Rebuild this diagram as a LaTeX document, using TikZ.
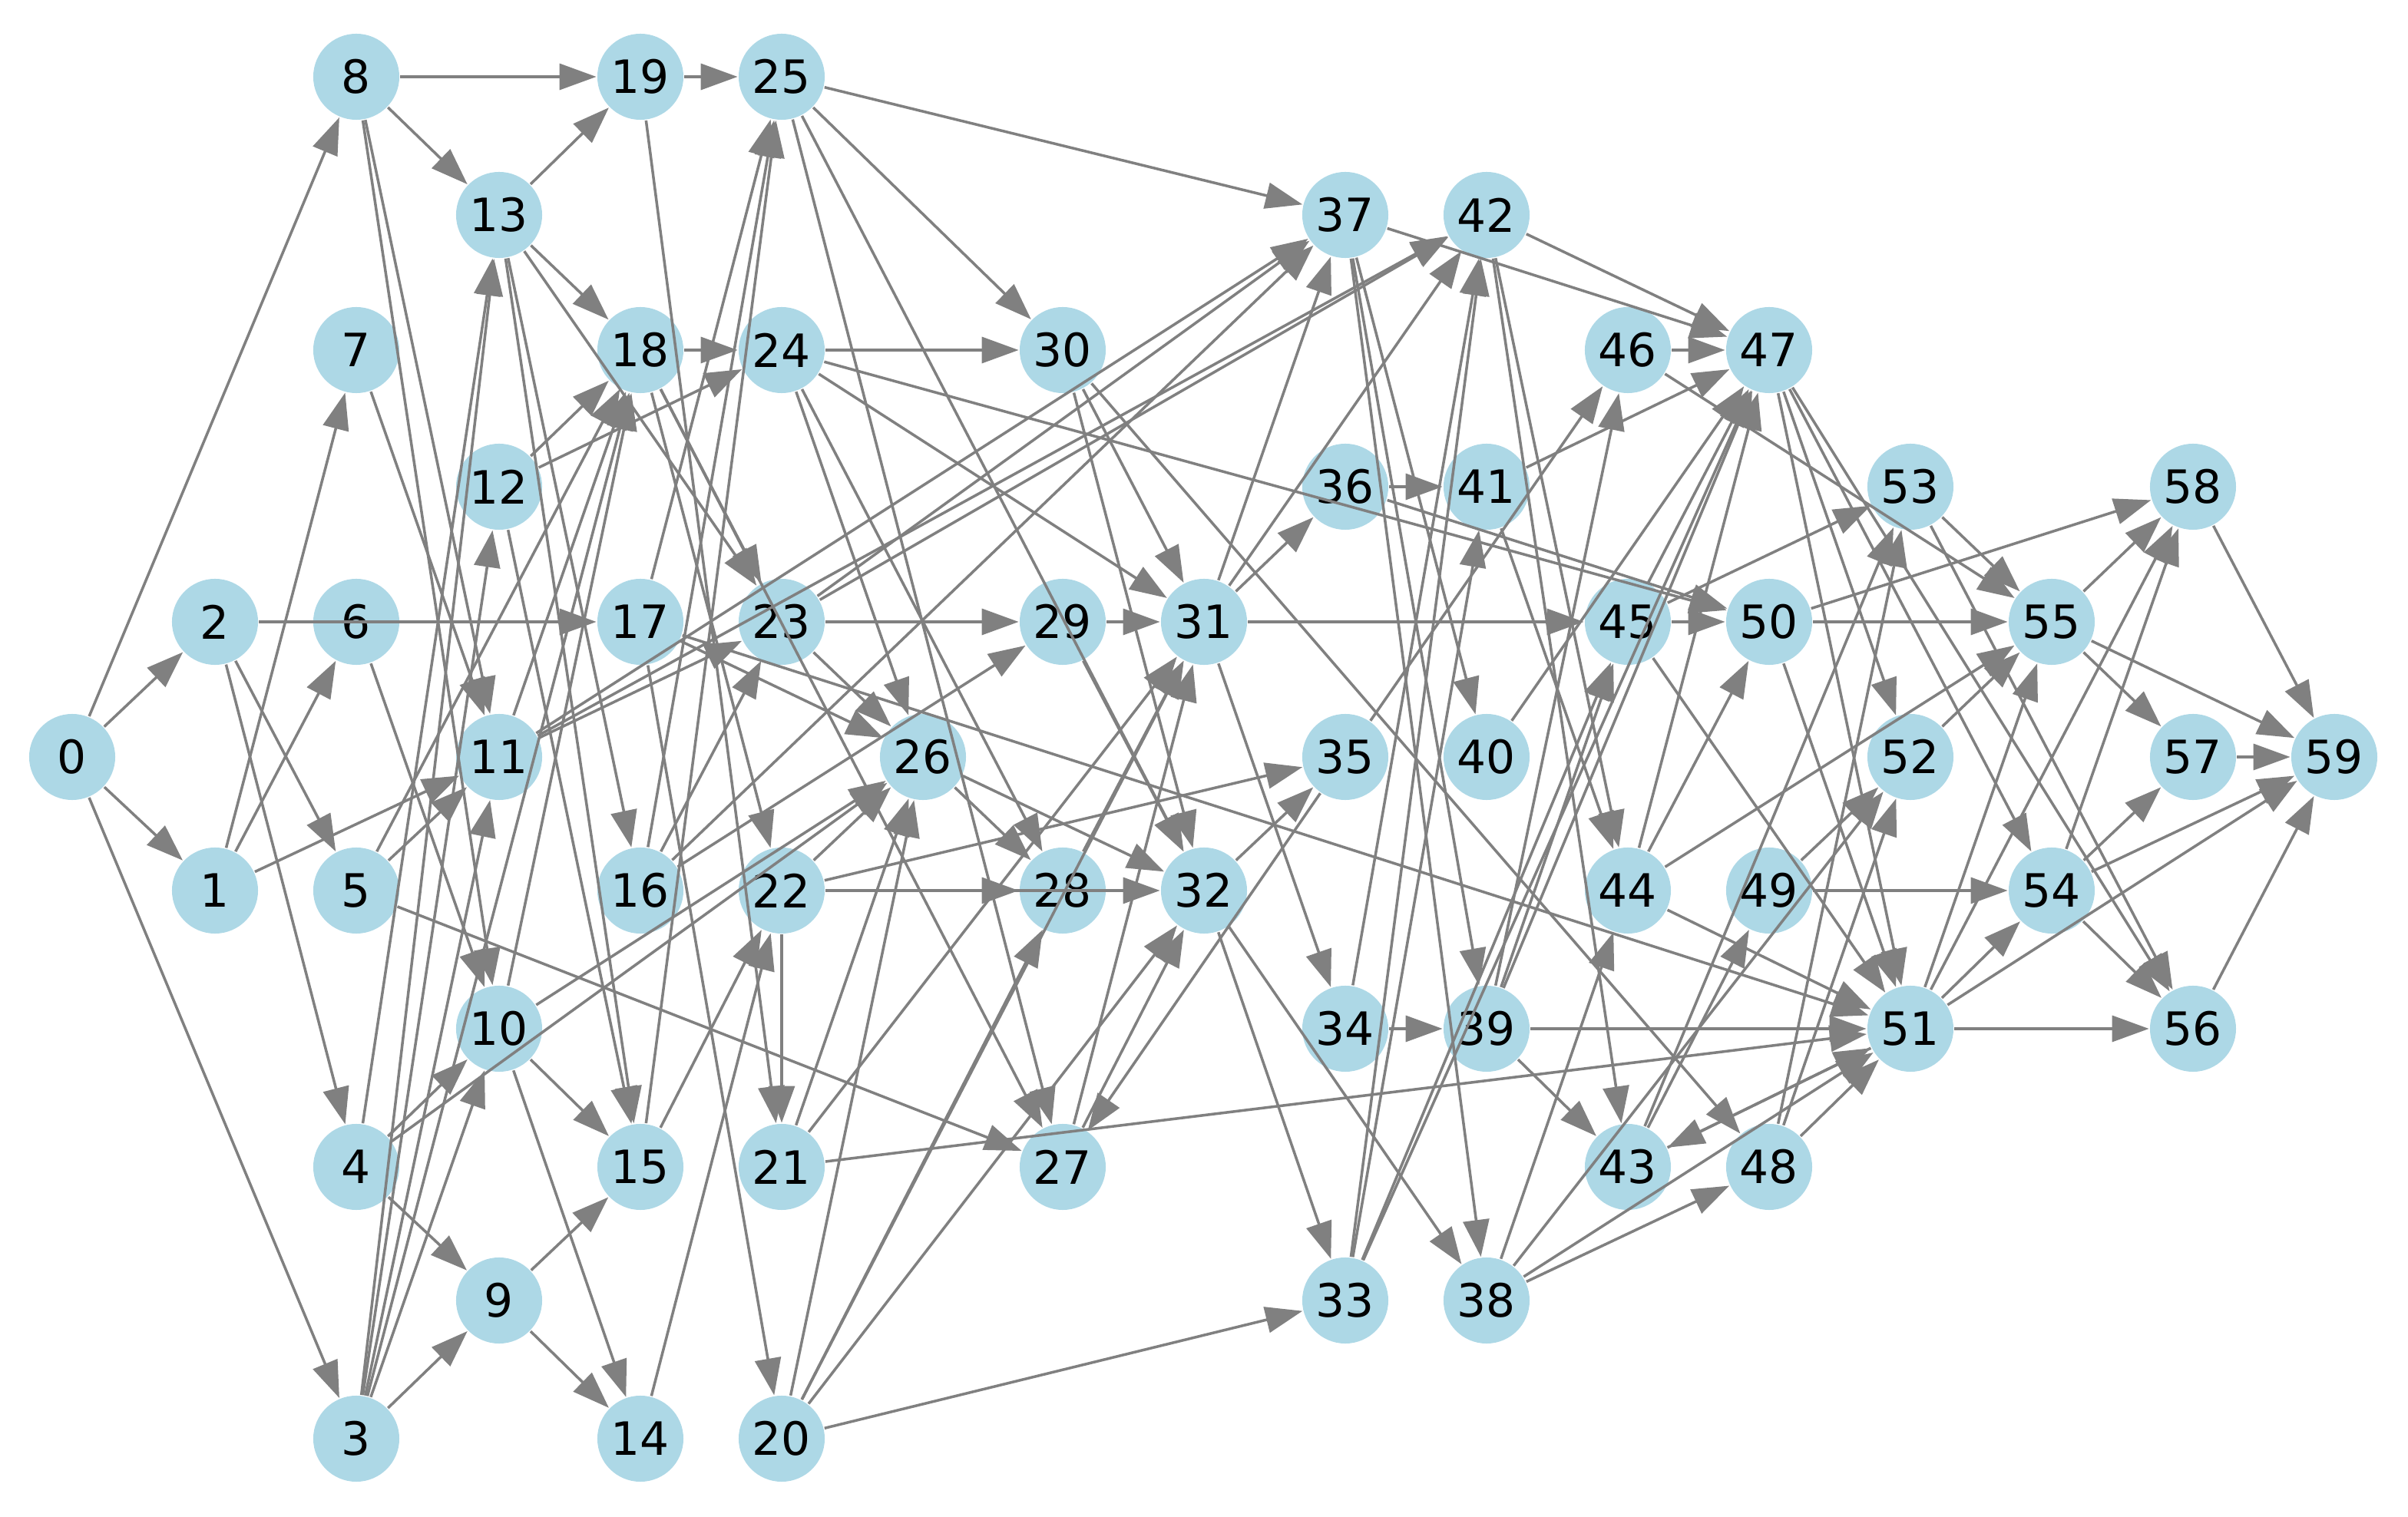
\documentclass[tikz,border=0pt]{standalone}
\usepackage{fontspec}
\setmainfont{DejaVu Sans}
\usetikzlibrary{arrows.meta}

\begin{document}
\begin{tikzpicture}[x=0.01cm,y=-0.01cm]
    \definecolor{vfill}{HTML}{ADD8E6}
    \tikzset{vertex/.style = {shape=circle,fill=vfill,minimum size=0.56cm,inner sep=0pt,font=\fontsize{8.5}{9}\selectfont}}
    \tikzset{pre/.style = {-{Triangle[length=2.4mm,width=1.7mm]},draw=gray,line width=0.5pt}}
    \useasboundingbox (0,0) rectangle (1568,988);

    % vertices
    \foreach \n/\x/\y in {0/47/493,1/140/580,2/140/405,3/232/937,4/232/760,5/232/580,
      6/232/405,7/232/228,8/232/50,9/325/847,10/325/670,11/325/493,12/325/317,
      13/325/140,14/417/937,15/417/760,16/417/580,17/417/405,18/417/228,19/417/50,
      20/509/937,21/509/760,22/509/580,23/509/405,24/509/228,25/509/50,26/601/493,
      27/692/760,28/692/580,29/692/405,30/692/228,31/784/405,32/784/580,33/876/847,
      34/876/670,35/876/493,36/876/317,37/876/140,38/968/847,39/968/670,40/968/493,
      41/968/317,42/968/140,43/1060/760,44/1060/580,45/1060/405,46/1060/228,
      47/1152/228,48/1152/760,49/1152/580,50/1152/405,51/1244/670,52/1244/493,
      53/1244/317,54/1336/580,55/1336/405,56/1428/670,57/1428/493,58/1428/317,
      59/1520/493}
      \node[vertex] (v\n) at (\x,\y) {\n};

    % arcs
    \foreach \a/\b in {0/8,0/2,0/1,0/3,1/7,1/6,1/11,2/17,2/5,2/4,
      3/9,3/10,3/11,3/12,3/13,3/18,4/9,4/10,4/13,4/26,5/11,5/18,5/27,6/10,
      7/11,8/19,8/13,8/10,8/11,9/15,9/14,10/15,10/14,10/26,10/18,
      11/18,11/37,11/42,11/23,12/18,12/24,12/15,13/19,13/18,13/23,13/16,13/15,
      14/22,15/22,15/25,16/25,16/23,16/29,16/37,17/25,17/26,17/51,17/20,
      18/24,18/23,18/22,18/27,19/25,19/21,20/33,20/26,20/28,20/31,20/32,
      21/26,21/31,21/51,22/26,22/35,22/28,22/32,22/21,23/29,23/37,23/42,23/26,
      24/30,24/26,24/31,24/28,24/50,25/37,25/30,25/27,25/32,26/28,26/32,
      27/32,27/31,28/31,29/31,29/32,30/31,30/32,30/48,31/36,31/34,31/37,
      31/45,31/42,32/33,32/38,32/35,33/42,33/41,33/45,33/47,34/39,34/42,35/46,35/27,
      36/41,36/50,37/47,37/38,37/39,37/40,38/48,38/51,38/44,38/52,
      39/43,39/51,39/47,39/45,39/46,40/47,41/47,41/44,42/47,42/43,42/44,
      43/51,43/49,43/53,44/51,44/50,44/47,44/55,45/50,45/53,45/51,45/47,
      46/47,46/55,47/52,47/51,47/54,47/56,48/51,48/53,48/52,49/54,49/52,
      50/55,50/58,50/51,51/54,51/56,51/59,51/55,51/43,51/58,52/55,53/55,53/56,
      54/58,54/57,54/56,54/59,55/58,55/57,55/59,56/59,57/59,58/59}
      \draw[pre] (v\a) -- (v\b);
\end{tikzpicture}
\end{document}
